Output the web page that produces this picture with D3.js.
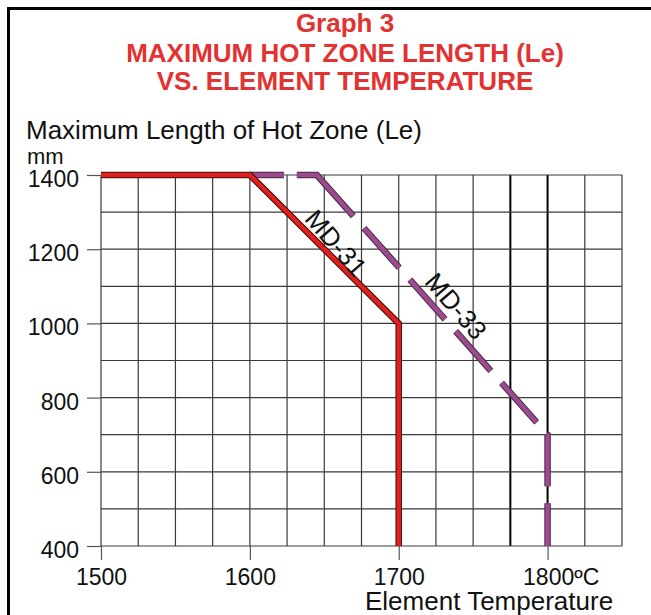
<!DOCTYPE html>
<html><head><meta charset="utf-8">
<script src="https://cdn.jsdelivr.net/npm/d3@7"></script>
<style>body{margin:0;background:#fff}svg{display:block}text{font-family:"Liberation Sans",Arial,sans-serif}</style>
</head><body><div id="c"></div>
<script>
const titleLines = ["Graph 3", "MAXIMUM HOT ZONE LENGTH (Le)", "VS. ELEMENT TEMPERATURE"];
const yAxisTitle = "Maximum Length of Hot Zone (Le)";
const yUnit = "mm";
const xAxisTitle = "Element Temperature";
const xTicks = [1500, 1600, 1700, 1800];
const xTickLabels = ["1500", "1600", "1700", "1800ºC"];
const yTicks = [400, 600, 800, 1000, 1200, 1400];
const xGrid = d3.range(1500, 1851, 25);
const yGrid = d3.range(400, 1401, 100);
const md31Temp = [1500, 1600, 1700, 1700];
const md31Len  = [1400, 1400, 1000, 400];
const md33Temp = [1600, 1645, 1800, 1800];
const md33Len  = [1400, 1400, 700, 400];

const W = 651, H = 615;
const FONT = "Liberation Sans, Arial, sans-serif";
const svg = d3.select("#c").append("svg").attr("width", W).attr("height", H);
const x = d3.scaleLinear().domain([1500, 1850]).range([101, 622]);
const y = d3.scaleLinear().domain([400, 1400]).range([546, 175]);

// frame
svg.append("path").attr("d", `M8.5,${H+5} V8.5 H${W+5}`).attr("fill", "none").attr("stroke", "#000").attr("stroke-width", 3);

// title
const tY = [32, 62, 90];
titleLines.forEach((t, i) => svg.append("text").attr("x", 345).attr("y", tY[i]).attr("text-anchor", "middle")
  .attr("font-size", 26).attr("font-weight", "bold").attr("fill", "#e23232").text(t));

svg.append("text").attr("x", 26).attr("y", 139).attr("font-size", 26).attr("fill", "#111").text(yAxisTitle);
svg.append("text").attr("x", 27).attr("y", 164).attr("font-size", 22).attr("fill", "#111").text(yUnit);

// grid
const g = svg.append("g");
g.selectAll("line.v").data(xGrid).join("line")
  .attr("x1", d => x(d)).attr("x2", d => x(d)).attr("y1", y(1400)).attr("y2", y(400))
  .attr("stroke", d => (d === 1775 || d === 1800) ? "#000" : "#3a3a3a")
  .attr("stroke-width", d => (d === 1775 || d === 1800) ? 2 : 1.2);
g.selectAll("line.h").data(yGrid).join("line")
  .attr("x1", x(1500)).attr("x2", x(1850)).attr("y1", d => y(d)).attr("y2", d => y(d))
  .attr("stroke", "#3a3a3a").attr("stroke-width", 1.2);

// axes
const yAxis = d3.axisLeft(y).tickValues(yTicks).tickSize(14).tickPadding(8).tickFormat(d3.format("d"));
const ya = svg.append("g").attr("transform", `translate(${x(1500)},0)`).call(yAxis);
ya.attr("font-size", null).attr("font-family", null);
ya.select(".domain").remove();
ya.selectAll(".tick line").attr("stroke", "#555").attr("stroke-width", 1.2);
ya.selectAll(".tick text").attr("font-size", 23).attr("fill", "#111").attr("font-family", FONT).attr("dy", "0.5em");

const xAxis = d3.axisBottom(x).tickValues(xTicks).tickSize(14).tickPadding(8).tickFormat((d, i) => xTickLabels[i]);
const xa = svg.append("g").attr("transform", `translate(0,${y(400)})`).call(xAxis);
xa.attr("font-size", null).attr("font-family", null);
xa.select(".domain").remove();
xa.selectAll(".tick line").attr("stroke", "#555").attr("stroke-width", 1.2);
xa.selectAll(".tick text").attr("font-size", 23).attr("fill", "#111").attr("font-family", FONT).attr("dy", "0.75em");
xa.selectAll(".tick text").filter((d, i) => i === xTickLabels.length - 1).attr("text-anchor", "start").attr("dx", -25);

svg.append("text").attr("x", 365).attr("y", 610).attr("font-size", 26).attr("fill", "#111").text(xAxisTitle);

// lines
const line = d3.line().x(d => x(d[0])).y(d => y(d[1]));
const md31 = md31Temp.map((t, i) => [t, md31Len[i]]);
const md33 = md33Temp.map((t, i) => [t, md33Len[i]]);
const dash = "34,13,75,16,53,16,53,16,53,16,53,15,53,17,60";
svg.append("path").attr("d", line(md33)).attr("fill", "none").attr("stroke", "#4a2a45").attr("stroke-width", 6.5).attr("stroke-dasharray", dash).attr("stroke-linejoin", "miter");
svg.append("path").attr("d", line(md33)).attr("fill", "none").attr("stroke", "#9c4c8e").attr("stroke-width", 4.5).attr("stroke-dasharray", dash).attr("stroke-linejoin", "miter");
svg.append("path").attr("d", line(md31)).attr("fill", "none").attr("stroke", "#3a1010").attr("stroke-width", 6.5).attr("stroke-linejoin", "miter");
svg.append("path").attr("d", line(md31)).attr("fill", "none").attr("stroke", "#e0201c").attr("stroke-width", 4.5).attr("stroke-linejoin", "miter");

// labels
svg.append("text").attr("transform", `translate(336,243) rotate(49)`).attr("text-anchor", "middle").attr("dy", "0.35em")
  .attr("font-size", 26).attr("fill", "#111").text("MD-31");
svg.append("text").attr("transform", `translate(456,306) rotate(49)`).attr("text-anchor", "middle").attr("dy", "0.35em")
  .attr("font-size", 26).attr("fill", "#111").text("MD-33");
</script></body></html>
